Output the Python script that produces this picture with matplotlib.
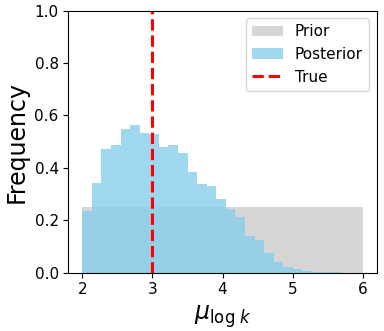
import matplotlib
matplotlib.use("Agg")
import matplotlib.pyplot as plt
import numpy as np

# Posterior histogram (bin width ~0.1365 starting at 2.0)
post_heights = [0.235, 0.342, 0.473, 0.486, 0.548, 0.564, 0.534, 0.529, 0.481, 0.487,
                0.458, 0.383, 0.340, 0.332, 0.282, 0.242, 0.214, 0.141, 0.126, 0.076,
                0.041, 0.023, 0.015, 0.008, 0.004, 0.002, 0.001]
post_start = 2.0
post_width = 0.1365

# Prior (uniform)
prior_low, prior_high, prior_height = 2.0, 6.0, 0.25
true_value = 3.0

fig = plt.figure(figsize=(3.84, 3.31), dpi=100)
ax = fig.add_axes([0.178, 0.176, 0.803, 0.792])

post_edges = post_start + post_width * np.arange(len(post_heights) + 1)
prior_edges = np.array([prior_low, prior_high])

ax.stairs([prior_height], prior_edges, fill=True, color='#d6d6d6', label='Prior')
ax.stairs(post_heights, post_edges, fill=True, color='skyblue', alpha=0.8, label='Posterior')
ax.axvline(true_value, color='red', linestyle='--', linewidth=2.2, label='True')

ax.set_xlim(1.8, 6.2)
ax.set_ylim(0, 1.0)
ax.set_xticks([2, 3, 4, 5, 6])
ax.set_yticks([0.0, 0.2, 0.4, 0.6, 0.8, 1.0])
ax.tick_params(labelsize=11)
ax.set_xlabel(r'$\mu_{\log\,k}$', fontsize=17)
ax.set_ylabel('Frequency', fontsize=17)
ax.legend(loc='upper right', fontsize=11)

fig.savefig('out.png', dpi=100)
